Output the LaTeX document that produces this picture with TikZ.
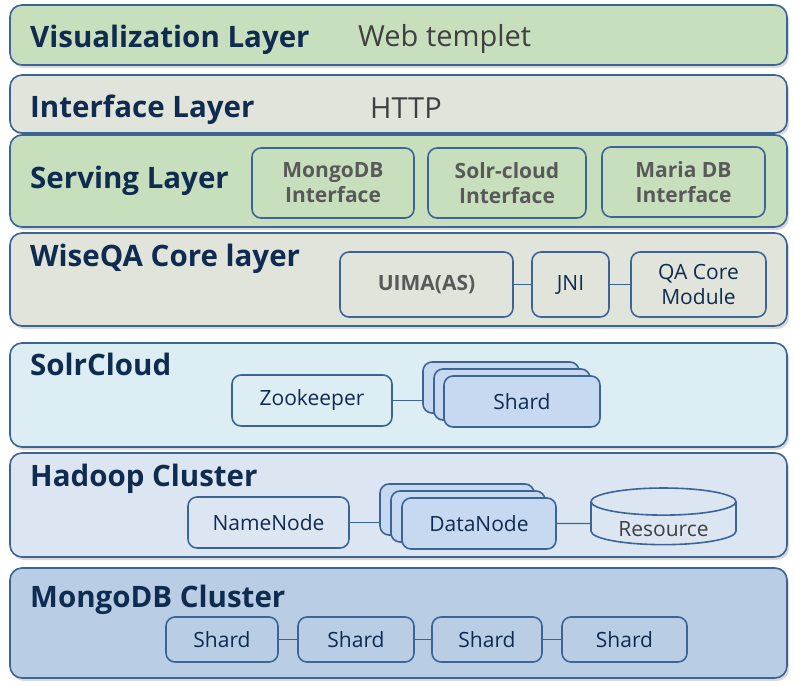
\documentclass[tikz,border=0pt]{standalone}
\usepackage{fontspec}
\setmainfont{Open Sans}
\usetikzlibrary{shapes.geometric,shadows}
\definecolor{edge}{HTML}{3C6495}
\definecolor{titlec}{HTML}{0F2B50}
\definecolor{greenl}{HTML}{C8DFBE}
\definecolor{grayl}{HTML}{E1E4DA}
\definecolor{cyanl}{HTML}{DCEDF3}
\definecolor{bluel}{HTML}{DCE6F2}
\definecolor{bluem}{HTML}{B9CDE5}
\definecolor{shardf}{HTML}{C6D9F1}
\definecolor{txtgray}{HTML}{404040}
\definecolor{boldgray}{HTML}{595959}
\begin{document}
\begin{tikzpicture}[x=1pt,y=-1pt,
layer/.style={draw=edge,line width=1.6pt,rounded corners=12pt,inner sep=0pt,minimum width=777pt,
  drop shadow={opacity=0.3,shadow xshift=2pt,shadow yshift=-3pt}},
title/.style={anchor=base west,inner sep=0pt,text=titlec,font=\fontsize{29.5}{32}\selectfont\bfseries},
sub/.style={anchor=base west,inner sep=0pt,text=txtgray,font=\fontsize{29}{32}\selectfont},
box/.style={draw=edge,line width=1.6pt,rounded corners=9pt,inner sep=0pt,align=center,text=titlec,
  font=\fontsize{21}{25}\selectfont},
gbox/.style={box,text=boldgray,font=\fontsize{21}{25}\selectfont\bfseries},
link/.style={draw=edge,line width=1.2pt}]
\useasboundingbox (0,0) rectangle (794,685);

\node (vis) [layer,fill=greenl,minimum height=60pt] at (398.5,35) {};
\node (intf) [layer,fill=grayl,minimum height=58pt] at (398.5,104) {};
\node (serv) [layer,fill=greenl,minimum height=92pt] at (398.5,181) {};
\node (core) [layer,fill=grayl,minimum height=93pt] at (398.5,279.5) {};
\node (solr) [layer,fill=cyanl,minimum height=104pt] at (398.5,395) {};
\node (hadoop) [layer,fill=bluel,minimum height=104pt] at (398.5,505) {};
\node (mongo) [layer,fill=bluem,minimum height=110pt] at (398.5,623) {};

\node (vistitle) [title] at (30,48) {Visualization Layer};
\node (web) [sub] at (358,47) {Web templet};
\node (intftitle) [title] at (30,117) {Interface Layer};
\node (http) [sub] at (370,118) {HTTP};
\node (servtitle) [title] at (30,188) {Serving Layer};
\node (coretitle) [title] at (30,266) {WiseQA Core layer};
\node (solrtitle) [title] at (30,375) {SolrCloud};
\node (hadooptitle) [title] at (30,486) {Hadoop Cluster};
\node (mongotitle) [title] at (30,607) {MongoDB Cluster};

\node (mongoif) [gbox,fill=greenl,minimum width=162pt,minimum height=70pt] at (333,183) {MongoDB\\Interface};
\node (solrif) [gbox,fill=greenl,minimum width=158pt,minimum height=70pt] at (507,183) {Solr-cloud\\Interface};
\node (mariaif) [gbox,fill=greenl,minimum width=163pt,minimum height=70pt] at (683.5,182) {Maria DB\\Interface};

\node (uima) [gbox,fill=grayl,minimum width=173pt,minimum height=65pt] at (426.5,284.5) {UIMA(AS)};
\node (jni) [box,fill=grayl,minimum width=77pt,minimum height=65pt] at (570.5,284.5) {JNI};
\node (qacore) [box,fill=grayl,minimum width=135pt,minimum height=65pt] at (698.5,284.5) {QA Core\\Module};
\draw[link] (uima) -- (jni);
\draw[link] (jni) -- (qacore);

\node (zk) [box,fill=cyanl,minimum width=160pt,minimum height=51pt] at (312,400.5) {Zookeeper};
\node (shardc) [box,fill=shardf,minimum width=156pt,minimum height=51pt] at (501,387.5) {};
\node (shardb) [box,fill=shardf,minimum width=156pt,minimum height=51pt] at (512,394.5) {};
\node (shard) [box,fill=shardf,minimum width=156pt,minimum height=51pt] at (522,401.5) {Shard};
\draw[link] (zk.east) -- (zk.east -| shardc.west);

\node (nn) [box,fill=bluel,minimum width=161pt,minimum height=51pt] at (268.5,522.5) {NameNode};
\node (dnc) [box,fill=shardf,minimum width=154pt,minimum height=51pt] at (457,509.5) {};
\node (dnb) [box,fill=shardf,minimum width=154pt,minimum height=51pt] at (468,516.5) {};
\node (dn) [box,fill=shardf,minimum width=154pt,minimum height=51pt] at (479,523.5) {DataNode};
\node (res) [cylinder,shape border rotate=90,draw=edge,line width=1.6pt,fill=bluel,aspect=0.3,inner sep=0pt,
  minimum width=145pt,minimum height=51pt,text=txtgray,font=\fontsize{21}{25}\selectfont] at (663.5,523.5)
  {\raisebox{-6pt}[\height][\depth]{Resource}};
\draw[link] (nn.east) -- (nn.east -| dnc.west);
\draw[link] (dn) -- (res);

\node (ms1) [box,fill=bluem,minimum width=112pt,minimum height=45pt] at (222,639.5) {Shard};
\node (ms2) [box,fill=bluem,minimum width=116pt,minimum height=45pt] at (356,639.5) {Shard};
\node (ms3) [box,fill=bluem,minimum width=110pt,minimum height=45pt] at (487,639.5) {Shard};
\node (ms4) [box,fill=bluem,minimum width=125pt,minimum height=45pt] at (624.5,639.5) {Shard};
\foreach \a/\b in {ms1/ms2,ms2/ms3,ms3/ms4}
  \draw[link] (\a) -- (\b);
\end{tikzpicture}
\end{document}
